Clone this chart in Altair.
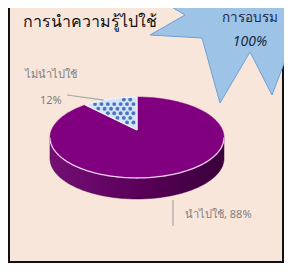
import math
import altair as alt
import pandas as pd

# ---------------- data ----------------
categories = ["นำไปใช้", "ไม่นำไปใช้"]
values = [88, 12]
label_texts = ["นำไปใช้, 88%", "ไม่นำไปใช้", "12%"]
chart_title = "การนำความรู้ไปใช้"
badge_texts = ["การอบรม", "100%"]

# ---------------- layout / geometry ----------------
W, H = 276, 255
BG = "#F8E6DB"
CX, CY, RX, RY, K, DEPTH = 129, 122, 85.5, 39.1, 0.185, 21


def proj(deg, dy=0.0):
    t = math.radians(deg)
    u, v = math.sin(t), -math.cos(t)
    s = 1.0 / (1.0 - K * v)
    return CX + RX * u * s, CY + RY * v * s + dy


def arc(a0, a1, n, dy=0.0):
    return [proj(a0 + (a1 - a0) * i / n, dy) for i in range(n + 1)]


total = float(sum(values))
angles = []
acc = 0.0
for v in values:
    a0 = acc / total * 360.0
    acc += v
    angles.append((a0, acc / total * 360.0))

front_r = math.degrees(math.acos(-K))
front_l = 360.0 - front_r

poly_rows = []


def add_poly(name, pts):
    for i, (x, y) in enumerate(pts):
        poly_rows.append({"poly": name, "i": i, "x": x, "y": y})


top_front = arc(front_r, front_l, 120)
add_poly("side", top_front + [(x, y + DEPTH) for x, y in reversed(top_front)] + [top_front[0]])
a0, a1 = angles[0]
add_poly("used", [(CX, CY)] + arc(a0, a1, 160) + [(CX, CY)])
b0, b1 = angles[1]
slice_pts = [(CX, CY)] + arc(b0, b1, 30) + [(CX, CY)]
add_poly("notused", slice_pts)
add_poly("rim", top_front)

# badge (explosion shape) outline, page-like pixel coordinates
badge_shape = [(150, 35), (185, 15), (140, -12), (205, -15), (220, -60), (255, -20),
               (300, -55), (295, 10), (340, 40), (288, 53), (272, 95), (250, 52),
               (220, 103), (202, 38), (150, 35)]
for i, (x, y) in enumerate(badge_shape):
    poly_rows.append({"poly": "badge", "i": i, "x": x - 8, "y": y - 8})

polys = pd.DataFrame(poly_rows)


# dot pattern inside the small slice
def inside(px, py, pts):
    c = False
    n = len(pts)
    for j in range(n - 1):
        x1, y1 = pts[j]
        x2, y2 = pts[j + 1]
        if (y1 > py) != (y2 > py):
            xi = x1 + (py - y1) * (x2 - x1) / (y2 - y1)
            if px < xi:
                c = not c
    return c


def edge_dist(px, py, pts):
    best = 1e9
    for j in range(len(pts) - 1):
        x1, y1 = pts[j]
        x2, y2 = pts[j + 1]
        dx, dy = x2 - x1, y2 - y1
        L = dx * dx + dy * dy
        t = 0 if L == 0 else max(0, min(1, ((px - x1) * dx + (py - y1) * dy) / L))
        best = min(best, math.hypot(px - (x1 + t * dx), py - (y1 + t * dy)))
    return best


dots = []
xs = [p[0] for p in slice_pts]
ys = [p[1] for p in slice_pts]
row = 0
yy = min(ys) + 2.5
while yy < max(ys):
    xx = min(xs) + (3.2 if row % 2 else 0)
    while xx < max(xs):
        if inside(xx, yy, slice_pts) and edge_dist(xx, yy, slice_pts) > 1.6:
            dots.append({"x": xx, "y": yy})
        xx += 6.4
    yy += 4.6
    row += 1
dots = pd.DataFrame(dots)

# labels
mid_small = proj(333)
mid_big = proj((a0 + a1) / 2, DEPTH)
labels = pd.DataFrame([
    {"text": label_texts[0], "x": mid_big[0] + 10, "y": mid_big[1] + 20},
    {"text": label_texts[1], "x": 17, "y": 67},
    {"text": label_texts[2], "x": 32, "y": 93},
])
leaders = pd.DataFrame([
    {"seg": 0, "i": 0, "x": 59, "y": 87},
    {"seg": 0, "i": 1, "x": mid_small[0], "y": mid_small[1]},
    {"seg": 1, "i": 0, "x": mid_big[0] - 2, "y": mid_big[1] + 5},
    {"seg": 1, "i": 1, "x": mid_big[0] - 2, "y": mid_big[1] + 31},
])
border = pd.DataFrame([
    {"seg": 0, "i": 0, "x": 1, "y": -5}, {"seg": 0, "i": 1, "x": 1, "y": H - 1},
    {"seg": 0, "i": 2, "x": W - 1, "y": H - 1}, {"seg": 0, "i": 3, "x": W - 1, "y": -5},
])
title_df = pd.DataFrame([{"text": chart_title, "x": 15, "y": 14}])
badge_df = pd.DataFrame([
    {"text": badge_texts[0], "x": 242, "y": 3},
    {"text": badge_texts[1], "x": 242, "y": 27},
])

xs_ = alt.Scale(domain=[0, W], nice=False, zero=False)
ys_ = alt.Scale(domain=[0, H], nice=False, zero=False, reverse=True)
X = alt.X("x:Q", scale=xs_, axis=None)
Y = alt.Y("y:Q", scale=ys_, axis=None)


def poly_layer(name, **mk):
    return alt.Chart(polys).transform_filter(alt.datum.poly == name).mark_line(**mk).encode(
        x=X, y=Y, order="i:Q")


side_grad = alt.Gradient(gradient="linear", x1=0, x2=1, y1=0, y2=0, stops=[
    alt.GradientStop(color="#751075", offset=0),
    alt.GradientStop(color="#5A005A", offset=0.5),
    alt.GradientStop(color="#3A003A", offset=1),
])

layers = [
    alt.Chart(border).mark_line(color="#111111", strokeWidth=2, strokeJoin="miter").encode(
        x=X, y=Y, order="i:Q"),
    poly_layer("side", fill=side_grad, stroke="#3A003A", strokeWidth=0.5),
    poly_layer("used", fill="#800080", stroke="#800080", strokeWidth=0.5),
    poly_layer("notused", fill="#D3E4F7", stroke="#D3E4F7", strokeWidth=0.5),
    alt.Chart(dots).mark_circle(size=15, color="#4A74C2", opacity=1).encode(x=X, y=Y),
    poly_layer("notused", stroke="#F4F0FA", strokeWidth=1.3, strokeJoin="round"),
    poly_layer("rim", stroke="#F3CDEE", strokeWidth=1.3),
    alt.Chart(leaders).mark_line(color="#A6A6A6", strokeWidth=1.2).encode(
        x=X, y=Y, order="i:Q", detail="seg:N"),
    alt.Chart(labels).mark_text(align="left", baseline="middle", fontSize=11,
                                color="#7F7F7F", font="Noto Sans").encode(x=X, y=Y, text="text:N"),
    poly_layer("badge", fill="#9DC3E6", stroke="#6F9FD6", strokeWidth=1),
    alt.Chart(badge_df).transform_filter(alt.datum.y < 20).mark_text(
        align="center", baseline="top", fontSize=13.5, color="#1B2A47", font="Noto Sans").encode(
        x=X, y=Y, text="text:N"),
    alt.Chart(badge_df).transform_filter(alt.datum.y > 20).mark_text(
        align="center", baseline="top", fontSize=14, fontStyle="italic", color="#1B2A47",
        font="Noto Sans").encode(x=X, y=Y, text="text:N"),
    alt.Chart(title_df).mark_text(align="left", baseline="middle", fontSize=16,
                                  color="#111111", font="Noto Sans").encode(x=X, y=Y, text="text:N"),
]

chart = alt.layer(*layers).properties(
    width=W, height=H, padding=0, background=BG,
    autosize=alt.AutoSizeParams(type="none"),
).configure_view(stroke=None)

chart.save("out.html", embed_options={"renderer": "svg", "actions": False})
